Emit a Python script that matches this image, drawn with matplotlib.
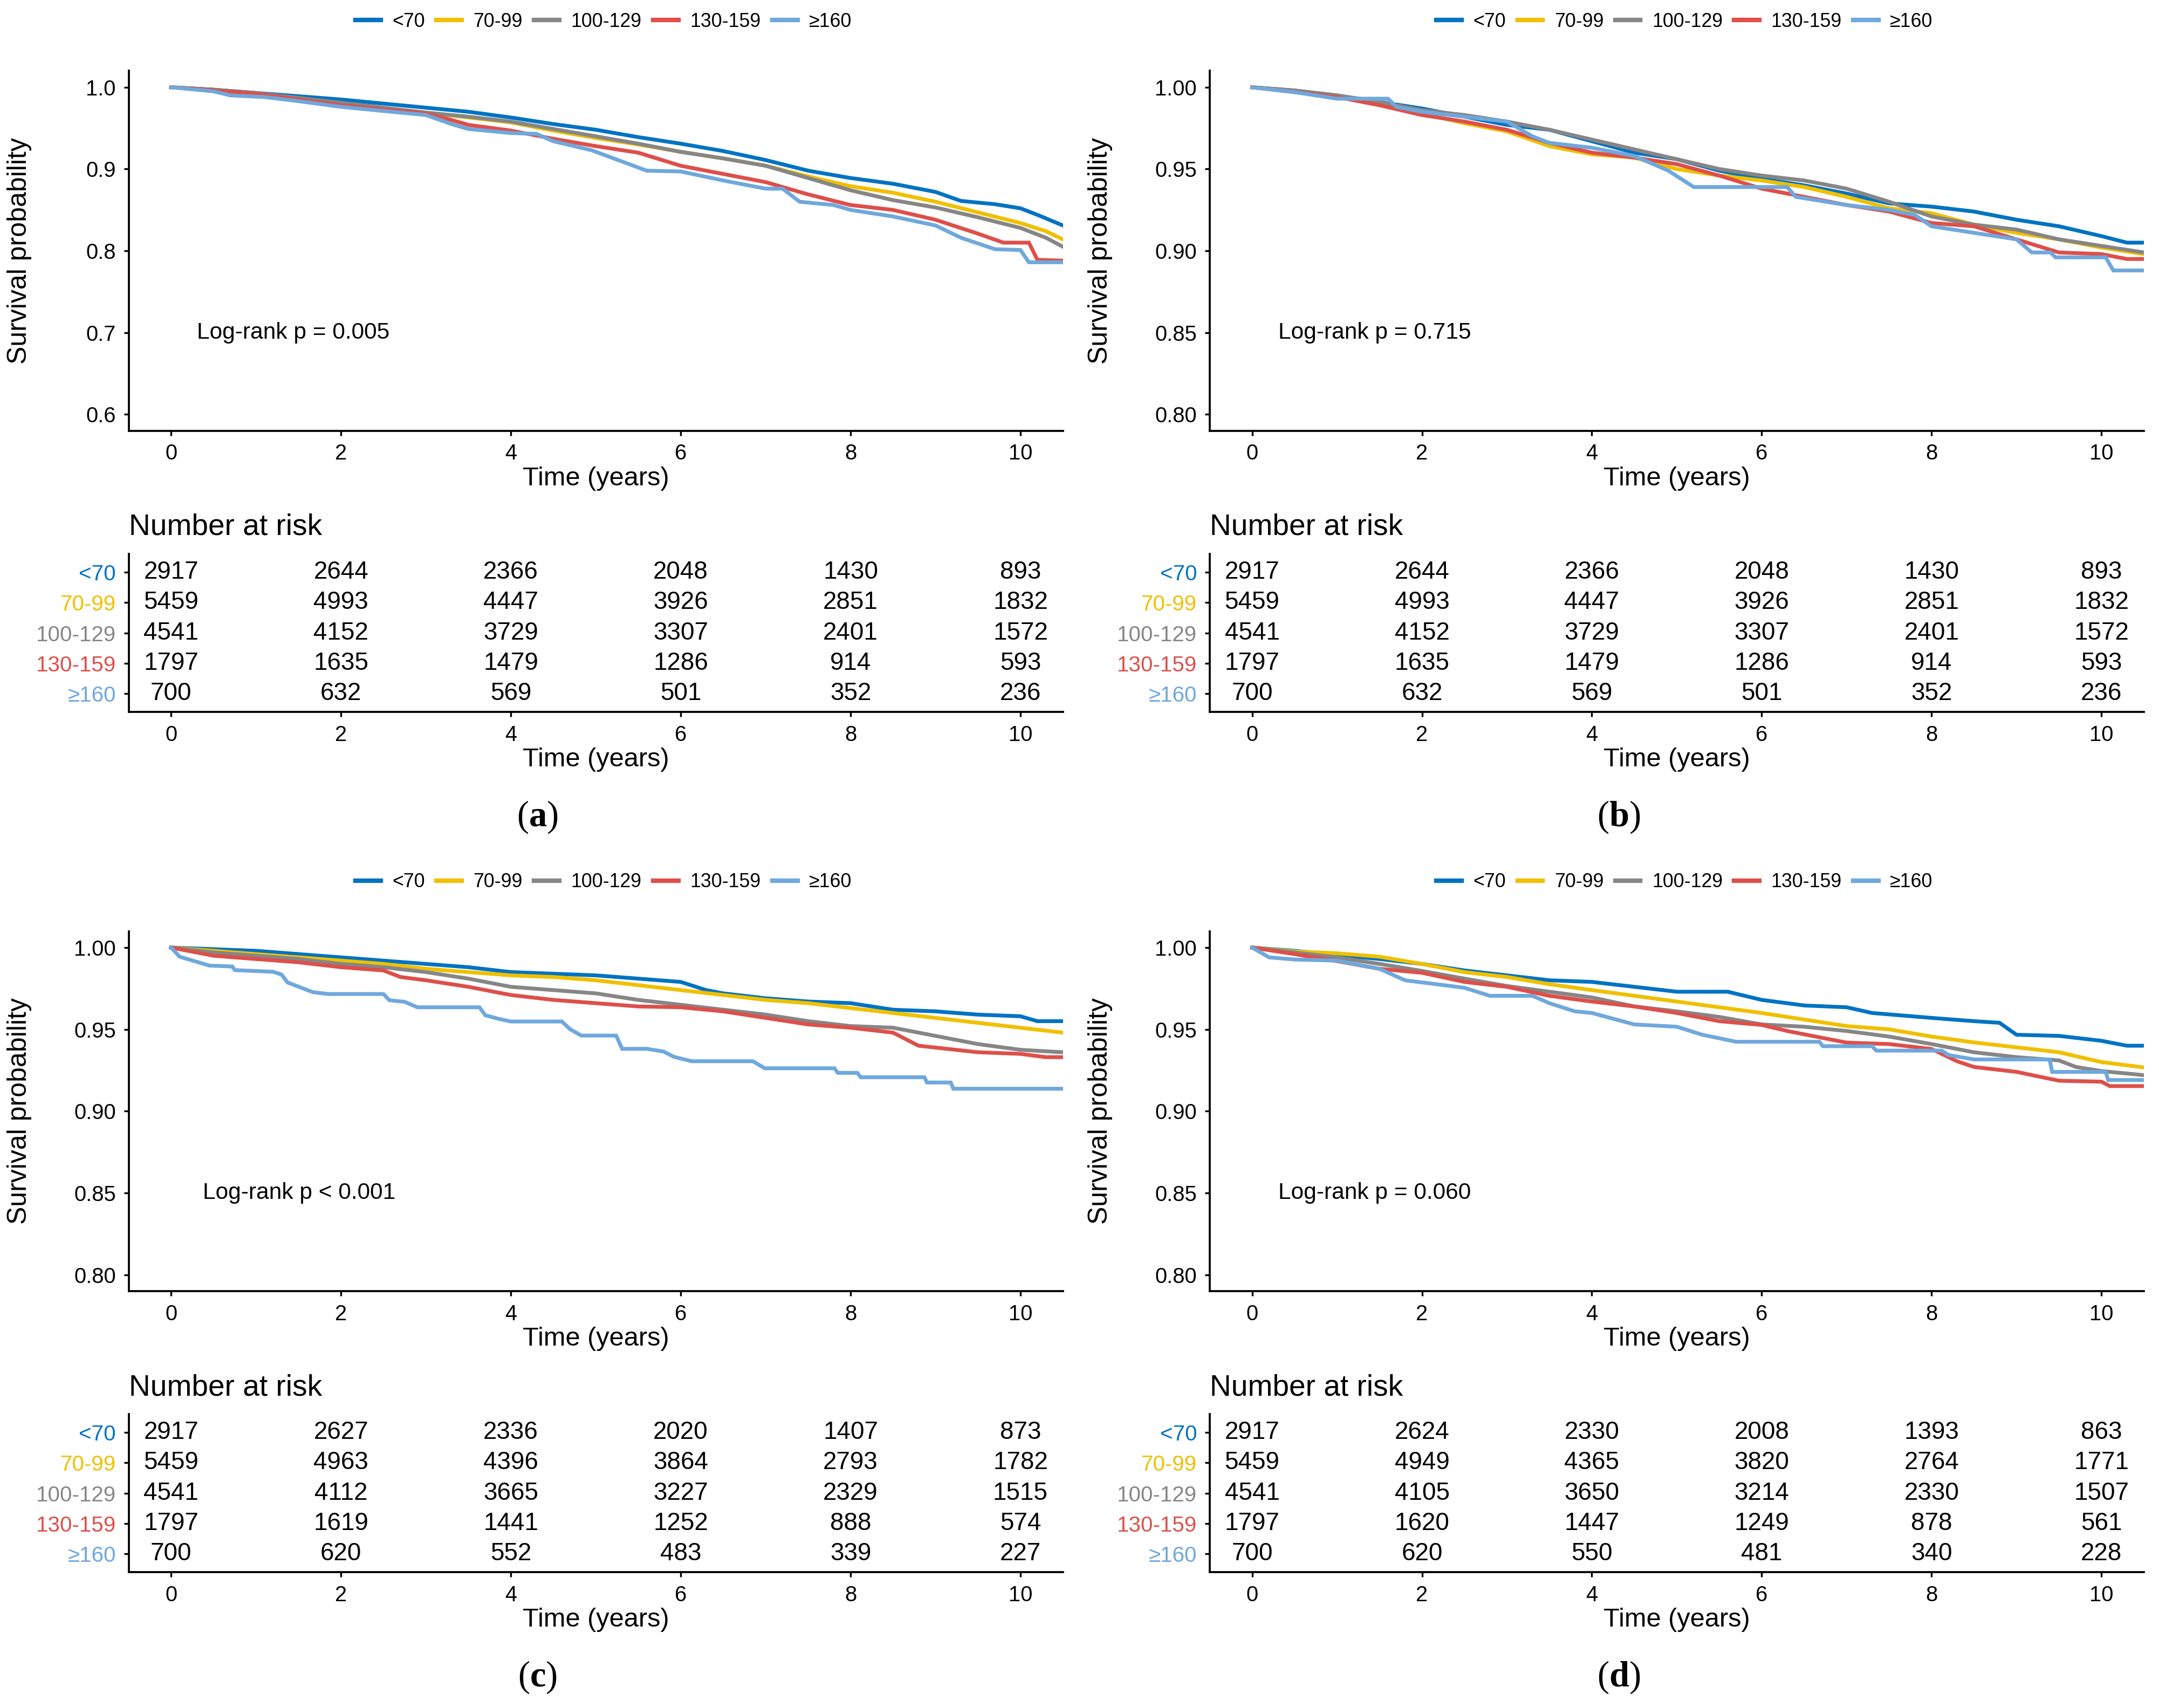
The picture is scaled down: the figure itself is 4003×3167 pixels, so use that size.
import matplotlib
matplotlib.use('Agg')
import matplotlib.pyplot as plt
from matplotlib.lines import Line2D

plt.rcParams['font.family'] = ['Liberation Sans', 'DejaVu Sans']
plt.rcParams['mathtext.fontset'] = 'custom'
plt.rcParams['mathtext.rm'] = 'Liberation Serif'
plt.rcParams['mathtext.bf'] = 'Liberation Serif:bold'

# groups and colours (same in every panel)
groups = ['<70', '70-99', '100-129', '130-159', '≥160']
colors = ['#0073C2', '#EFC000', '#868686', '#DE4F4A', '#6FA8DC']
risk_times = [0, 2, 4, 6, 8, 10]

# survival curves, (time, survival) pairs
a_lt70 = [(0, 1.0), (0.5, 0.997), (1, 0.993), (1.5, 0.989), (2, 0.985), (2.5, 0.980), (3, 0.975), (3.5, 0.970),
          (4, 0.963), (4.5, 0.955), (5, 0.948), (5.5, 0.939), (6, 0.931), (6.5, 0.922), (7, 0.911), (7.5, 0.898),
          (8, 0.889), (8.5, 0.882), (9, 0.872), (9.3, 0.861), (9.7, 0.857), (10, 0.852), (10.2, 0.844), (10.5, 0.831)]
a_70_99 = [(0, 1.0), (0.5, 0.997), (1, 0.992), (1.5, 0.986), (2, 0.979), (2.5, 0.974), (3, 0.969), (3.5, 0.963),
           (4, 0.957), (4.5, 0.947), (5, 0.938), (5.5, 0.930), (6, 0.921), (6.5, 0.913), (7, 0.904), (7.5, 0.891),
           (8, 0.879), (8.5, 0.871), (9, 0.860), (9.5, 0.847), (10, 0.834), (10.3, 0.824), (10.5, 0.814)]
a_100_129 = [(0, 1.0), (0.5, 0.997), (1, 0.993), (1.5, 0.987), (2, 0.981), (2.5, 0.975), (3, 0.969), (3.5, 0.964),
             (4, 0.958), (4.5, 0.949), (5, 0.940), (5.5, 0.931), (6, 0.921), (6.5, 0.913), (7, 0.904), (7.5, 0.889),
             (8, 0.874), (8.5, 0.862), (9, 0.853), (9.5, 0.841), (10, 0.828), (10.3, 0.816), (10.5, 0.805)]
a_130_159 = [(0, 1.0), (0.5, 0.996), (1, 0.992), (1.5, 0.985), (2, 0.978), (2.5, 0.973), (3, 0.968), (3.3, 0.960),
             (3.5, 0.954), (4, 0.947), (4.5, 0.937), (5, 0.928), (5.5, 0.920), (6, 0.904), (6.5, 0.894), (7, 0.884),
             (7.5, 0.869), (8, 0.856), (8.5, 0.850), (9, 0.838), (9.5, 0.821), (9.8, 0.810), (10.1, 0.810),
             (10.2, 0.789), (10.5, 0.788)]
a_ge160 = [(0, 1.0), (0.5, 0.995), (0.7, 0.990), (1.1, 0.988), (1.5, 0.983), (2, 0.976), (2.5, 0.971), (3, 0.966),
           (3.3, 0.955), (3.5, 0.949), (4, 0.944), (4.3, 0.943), (4.5, 0.934), (4.95, 0.923), (5.6, 0.898),
           (6.0, 0.897), (6.5, 0.886), (7, 0.876), (7.2, 0.876), (7.4, 0.860), (7.8, 0.856), (8, 0.850),
           (8.5, 0.842), (9, 0.831), (9.3, 0.816), (9.7, 0.802), (10.0, 0.801), (10.1, 0.786), (10.5, 0.786)]

b_lt70 = [(0, 1.0), (0.5, 0.998), (1, 0.995), (1.5, 0.991), (2, 0.987), (2.5, 0.982), (3, 0.977), (3.5, 0.974),
          (4, 0.967), (4.5, 0.960), (5, 0.956), (5.5, 0.949), (6, 0.944), (6.5, 0.940), (7, 0.935), (7.5, 0.929),
          (8, 0.927), (8.5, 0.924), (9, 0.919), (9.5, 0.915), (10, 0.909), (10.3, 0.905), (10.5, 0.905)]
b_70_99 = [(0, 1.0), (0.5, 0.998), (1, 0.994), (1.5, 0.990), (2, 0.984), (2.5, 0.978), (3, 0.973), (3.5, 0.964),
           (4, 0.959), (4.5, 0.957), (5, 0.950), (5.5, 0.946), (6, 0.943), (6.5, 0.939), (7, 0.933), (7.5, 0.926),
           (8, 0.923), (8.5, 0.916), (9, 0.911), (9.5, 0.907), (10, 0.902), (10.5, 0.898)]
b_100_129 = [(0, 1.0), (0.5, 0.998), (1, 0.995), (1.5, 0.991), (2, 0.986), (2.5, 0.983), (3, 0.979), (3.5, 0.974),
             (4, 0.968), (4.5, 0.962), (5, 0.956), (5.5, 0.950), (6, 0.946), (6.5, 0.943), (7, 0.938), (7.5, 0.930),
             (8, 0.921), (8.5, 0.916), (9, 0.913), (9.5, 0.907), (10, 0.903), (10.5, 0.899)]
b_130_159 = [(0, 1.0), (0.5, 0.997), (1, 0.994), (1.5, 0.989), (2, 0.983), (2.5, 0.979), (3, 0.974), (3.5, 0.966),
             (4, 0.960), (4.5, 0.957), (5, 0.953), (5.5, 0.946), (6, 0.938), (6.5, 0.933), (7, 0.928), (7.5, 0.924),
             (8, 0.917), (8.5, 0.915), (9, 0.907), (9.5, 0.899), (10, 0.898), (10.3, 0.895), (10.5, 0.895)]
b_ge160 = [(0, 1.0), (0.5, 0.997), (1, 0.993), (1.6, 0.993), (1.7, 0.988), (2, 0.985), (2.5, 0.982), (3, 0.979),
           (3.3, 0.970), (3.5, 0.966), (4, 0.963), (4.5, 0.958), (4.9, 0.949), (5.2, 0.939), (6.3, 0.939),
           (6.4, 0.933), (7, 0.928), (7.5, 0.925), (7.8, 0.922), (8, 0.915), (8.5, 0.911), (9, 0.907),
           (9.18, 0.899), (9.4, 0.899), (9.46, 0.896), (10.05, 0.896), (10.14, 0.888), (10.5, 0.888)]

c_lt70 = [(0, 1.0), (0.5, 0.999), (1, 0.998), (1.5, 0.996), (2, 0.994), (2.5, 0.992), (3, 0.990), (3.5, 0.988),
          (4, 0.985), (4.5, 0.984), (5, 0.983), (5.5, 0.981), (6, 0.979), (6.3, 0.974), (6.5, 0.972), (7, 0.969),
          (7.5, 0.967), (8, 0.966), (8.5, 0.962), (9, 0.961), (9.5, 0.959), (10, 0.958), (10.2, 0.955), (10.5, 0.955)]
c_70_99 = [(0, 1.0), (0.5, 0.998), (1, 0.996), (1.5, 0.994), (2, 0.992), (2.5, 0.990), (3, 0.987), (3.5, 0.985),
           (4, 0.983), (4.5, 0.982), (5, 0.980), (5.5, 0.977), (6, 0.974), (6.5, 0.971), (7, 0.968), (7.5, 0.966),
           (8, 0.963), (8.5, 0.960), (9, 0.957), (9.5, 0.954), (10, 0.951), (10.5, 0.948)]
c_100_129 = [(0, 1.0), (0.5, 0.997), (1, 0.995), (1.5, 0.993), (2, 0.990), (2.5, 0.988), (3, 0.985), (3.5, 0.981),
             (4, 0.976), (4.5, 0.974), (5, 0.972), (5.5, 0.968), (6, 0.965), (6.5, 0.962), (7, 0.959), (7.5, 0.955),
             (8, 0.952), (8.5, 0.951), (9, 0.946), (9.5, 0.941), (10, 0.9375), (10.5, 0.936)]
c_130_159 = [(0, 1.0), (0.5, 0.995), (1, 0.993), (1.5, 0.991), (2, 0.988), (2.5, 0.986), (2.7, 0.982), (3, 0.980),
             (3.5, 0.976), (4, 0.971), (4.5, 0.968), (5, 0.966), (5.5, 0.964), (6, 0.9635), (6.5, 0.961), (7, 0.957),
             (7.5, 0.953), (8, 0.951), (8.5, 0.948), (8.8, 0.940), (9.5, 0.936), (10, 0.935), (10.3, 0.933), (10.5, 0.933)]
c_ge160 = [(0, 1.0), (0.1, 0.9944), (0.45, 0.989), (0.72, 0.9884), (0.75, 0.9862), (1.2, 0.9852), (1.3, 0.9835),
           (1.37, 0.9787), (1.67, 0.9727), (1.85, 0.9716), (2.5, 0.9716), (2.57, 0.9678), (2.75, 0.9668),
           (2.9, 0.9635), (3.63, 0.9635), (3.7, 0.9586), (3.85, 0.9565), (4.0, 0.9548), (4.6, 0.9548), (4.7, 0.95),
           (4.83, 0.9462), (5.24, 0.9462), (5.31, 0.9381), (5.6, 0.9381), (5.8, 0.9364), (5.92, 0.9332),
           (6.13, 0.9305), (6.85, 0.9305), (6.99, 0.9262), (7.81, 0.9262), (7.85, 0.9234), (8.08, 0.9234),
           (8.12, 0.9207), (8.87, 0.9207), (8.9, 0.9175), (9.18, 0.9175), (9.21, 0.9137), (10.5, 0.9137)]

d_lt70 = [(0, 1.0), (0.5, 0.998), (1, 0.9955), (1.5, 0.993), (2, 0.990), (2.5, 0.986), (3, 0.983), (3.5, 0.980),
          (4, 0.979), (4.5, 0.976), (5, 0.973), (5.6, 0.973), (6, 0.968), (6.5, 0.9646), (7, 0.9635), (7.3, 0.960),
          (8, 0.957), (8.5, 0.955), (8.8, 0.954), (9, 0.9467), (9.5, 0.946), (10, 0.943), (10.3, 0.940), (10.5, 0.940)]
d_70_99 = [(0, 1.0), (0.5, 0.9976), (1, 0.9965), (1.5, 0.9944), (2, 0.990), (2.5, 0.985), (3, 0.982), (3.5, 0.9776),
           (4, 0.974), (4.5, 0.9705), (5, 0.967), (5.5, 0.9635), (6, 0.960), (6.5, 0.956), (7, 0.952), (7.5, 0.950),
           (8, 0.9456), (8.5, 0.942), (9, 0.939), (9.5, 0.936), (10, 0.930), (10.5, 0.9267)]
d_100_129 = [(0, 1.0), (0.5, 0.997), (1, 0.994), (1.5, 0.990), (2, 0.9857), (2.5, 0.981), (3, 0.9765), (3.5, 0.973),
             (4, 0.9695), (4.5, 0.964), (5, 0.961), (5.5, 0.9576), (6, 0.953), (6.5, 0.9516), (7, 0.949), (7.5, 0.9456),
             (8, 0.941), (8.5, 0.936), (9, 0.933), (9.5, 0.931), (9.7, 0.927), (10, 0.9245), (10.5, 0.922)]
d_130_159 = [(0, 1.0), (0.5, 0.996), (1, 0.9917), (1.5, 0.987), (2, 0.9846), (2.5, 0.979), (3, 0.976), (3.5, 0.9705),
             (4, 0.967), (4.5, 0.964), (5, 0.960), (5.5, 0.955), (6, 0.9527), (6.3, 0.949), (7, 0.9419), (7.5, 0.941),
             (8, 0.938), (8.3, 0.9305), (8.5, 0.927), (9, 0.924), (9.5, 0.9186), (10, 0.918), (10.1, 0.9153), (10.5, 0.9153)]
d_ge160 = [(0, 1.0), (0.2, 0.994), (0.5, 0.9927), (1, 0.992), (1.5, 0.987), (1.8, 0.980), (2, 0.9787), (2.5, 0.9754),
           (2.8, 0.9705), (3.3, 0.9705), (3.5, 0.966), (3.8, 0.961), (4, 0.960), (4.5, 0.953), (5, 0.9516),
           (5.3, 0.9467), (5.7, 0.9424), (6.68, 0.9424), (6.72, 0.9397), (7.3, 0.9397), (7.35, 0.937), (8.12, 0.937),
           (8.2, 0.9343), (8.5, 0.9316), (9.39, 0.9316), (9.42, 0.924), (10.05, 0.924), (10.08, 0.919), (10.5, 0.919)]

# number at risk tables (rows = groups, cols = risk_times)
risk_a = [[2917, 2644, 2366, 2048, 1430, 893],
          [5459, 4993, 4447, 3926, 2851, 1832],
          [4541, 4152, 3729, 3307, 2401, 1572],
          [1797, 1635, 1479, 1286, 914, 593],
          [700, 632, 569, 501, 352, 236]]
risk_b = [[2917, 2644, 2366, 2048, 1430, 893],
          [5459, 4993, 4447, 3926, 2851, 1832],
          [4541, 4152, 3729, 3307, 2401, 1572],
          [1797, 1635, 1479, 1286, 914, 593],
          [700, 632, 569, 501, 352, 236]]
risk_c = [[2917, 2627, 2336, 2020, 1407, 873],
          [5459, 4963, 4396, 3864, 2793, 1782],
          [4541, 4112, 3665, 3227, 2329, 1515],
          [1797, 1619, 1441, 1252, 888, 574],
          [700, 620, 552, 483, 339, 227]]
risk_d = [[2917, 2624, 2330, 2008, 1393, 863],
          [5459, 4949, 4365, 3820, 2764, 1771],
          [4541, 4105, 3650, 3214, 2330, 1507],
          [1797, 1620, 1447, 1249, 878, 561],
          [700, 620, 550, 481, 340, 228]]

p_texts = ['Log-rank p = 0.005', 'Log-rank p = 0.715', 'Log-rank p < 0.001', 'Log-rank p = 0.060']
panel_tags = ['a', 'b', 'c', 'd']


def style_axis(ax):
    for s in ['top', 'right']:
        ax.spines[s].set_visible(False)
    for s in ['left', 'bottom']:
        ax.spines[s].set_linewidth(0.9)
    ax.tick_params(length=2.2, width=0.8, pad=3.5, labelsize=9.6, colors='black')
    ax.set_xlim(-0.5, 10.5)
    ax.set_xticks(risk_times)


def draw_panel(fig, x0, y0, curves, risk, ptext, pxy, ylim, yticks, yfmt, tag):
    w = 0.4327
    # survival curves
    ax = fig.add_axes([x0, y0 + 0.1646, w, 0.2107])
    for pts, col in zip(curves, colors):
        ax.plot([p[0] for p in pts], [p[1] for p in pts], color=col, lw=1.7, solid_joinstyle='miter')
    style_axis(ax)
    ax.set_ylim(*ylim)
    ax.set_yticks(yticks)
    ax.set_yticklabels([yfmt % v for v in yticks])
    ax.set_xlabel('Time (years)', fontsize=11.7, labelpad=1)
    ax.text(pxy[0], pxy[1], ptext, fontsize=10.2, ha='left', va='center')
    fig.text(x0 - 0.0506, y0 + 0.27, 'Survival probability', rotation=90, ha='center', va='center', fontsize=12)

    # legend over the panel
    handles = [Line2D([0], [0], color=c, lw=2.0) for c in colors]
    fig.legend(handles, groups, loc='center', bbox_to_anchor=(x0 + 0.22, y0 + 0.404), ncol=5, frameon=False,
               fontsize=8.6, handlelength=1.3, handletextpad=0.6, columnspacing=0.6)

    # number at risk table
    tab = fig.add_axes([x0, y0, w, 0.0925])
    style_axis(tab)
    tab.set_ylim(5.6, 0.4)
    tab.set_yticks(range(1, 6))
    tab.set_yticklabels(groups, fontsize=9.7)
    for lab, col in zip(tab.get_yticklabels(), colors):
        lab.set_color(col)
    for i, row in enumerate(risk):
        for t, n in zip(risk_times, row):
            tab.text(t, i + 1, str(n), ha='center', va='center', fontsize=11)
    tab.set_xlabel('Time (years)', fontsize=11.7, labelpad=1)
    fig.text(x0, y0 + 0.108, 'Number at risk', fontsize=13.2, ha='left', va='center')

    # panel tag, e.g. (a) with a bold letter
    fig.text(x0 + 0.1894, y0 - 0.0616, '($\\mathbf{%s}$)' % tag, fontsize=16, family='Liberation Serif',
             ha='center', va='center')


fig = plt.figure(figsize=(4003 / 300, 3167 / 300), dpi=300)

x_left, x_right = 0.0596, 0.5603
y_top, y_bot = 0.5832, 0.0795

draw_panel(fig, x_left, y_top, [a_lt70, a_70_99, a_100_129, a_130_159, a_ge160], risk_a, p_texts[0], (0.3, 0.70),
           (0.58, 1.02), [0.6, 0.7, 0.8, 0.9, 1.0], '%.1f', panel_tags[0])
draw_panel(fig, x_right, y_top, [b_lt70, b_70_99, b_100_129, b_130_159, b_ge160], risk_b, p_texts[1], (0.31, 0.85),
           (0.79, 1.01), [0.80, 0.85, 0.90, 0.95, 1.00], '%.2f', panel_tags[1])
draw_panel(fig, x_left, y_bot, [c_lt70, c_70_99, c_100_129, c_130_159, c_ge160], risk_c, p_texts[2], (0.37, 0.85),
           (0.79, 1.01), [0.80, 0.85, 0.90, 0.95, 1.00], '%.2f', panel_tags[2])
draw_panel(fig, x_right, y_bot, [d_lt70, d_70_99, d_100_129, d_130_159, d_ge160], risk_d, p_texts[3], (0.31, 0.85),
           (0.79, 1.01), [0.80, 0.85, 0.90, 0.95, 1.00], '%.2f', panel_tags[3])

fig.savefig('out.png', dpi=300, facecolor='white')
